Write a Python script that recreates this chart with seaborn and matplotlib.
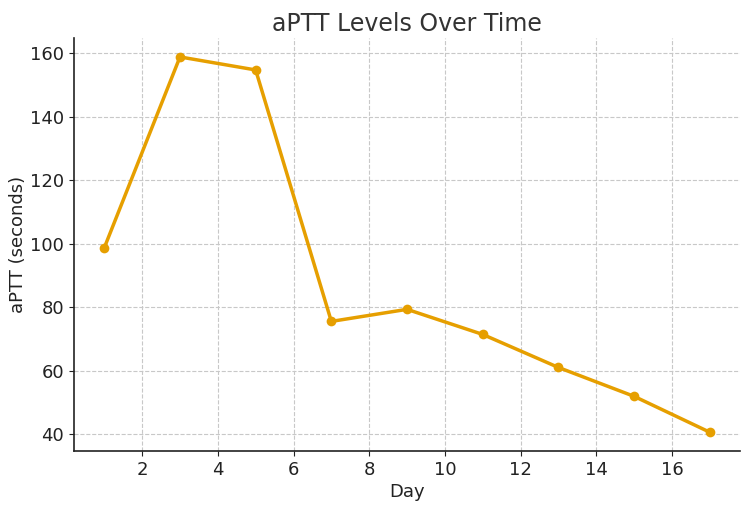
import matplotlib
matplotlib.use("Agg")
import matplotlib.pyplot as plt
import seaborn as sns
import pandas as pd

days = [1, 3, 5, 7, 9, 11, 13, 15, 17]
aptt = [98.7, 158.8, 154.7, 75.5, 79.3, 71.4, 61.0, 51.9, 40.6]

sns.set_style("ticks")
plt.rcParams['font.family'] = ['DejaVu Sans']

df = pd.DataFrame({"Day": days, "aPTT": aptt})
fig = plt.figure(figsize=(7.5, 5.09), dpi=100)
ax = fig.add_axes([0.0987, 0.114, 0.888, 0.811])
sns.lineplot(data=df, x="Day", y="aPTT", ax=ax, color="#E69F00", linewidth=2.5,
             marker="o", markersize=7, markeredgewidth=0)
ax.set_title("aPTT Levels Over Time", fontsize=17, color="#333333", pad=5)
ax.set_xlabel("Day", fontsize=13, color="#222222", labelpad=3)
ax.set_ylabel("aPTT (seconds)", fontsize=13, color="#222222", labelpad=2)
ax.tick_params(labelsize=13, colors="#222222")
ax.set_xticks([2, 4, 6, 8, 10, 12, 14, 16])
ax.set_yticks([40, 60, 80, 100, 120, 140, 160])
ax.grid(True, linestyle="--", color="#c8c8c8", linewidth=0.8)
sns.despine(ax=ax)
for s in ["left", "bottom"]:
    ax.spines[s].set_color("#222222")
    ax.spines[s].set_linewidth(1.2)
fig.savefig("out.png", dpi=100)
